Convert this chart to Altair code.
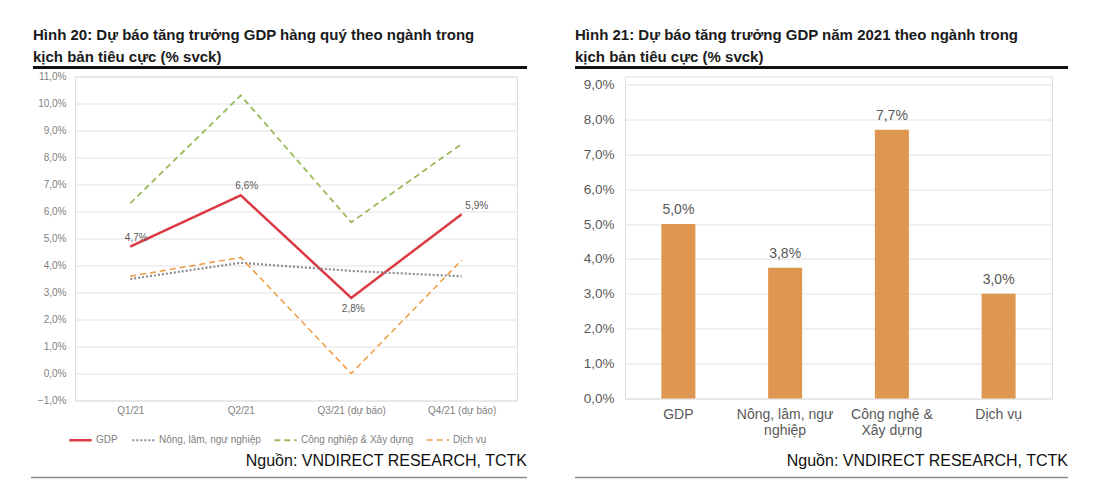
import altair as alt
import pandas as pd

# ---------------- data ----------------
quarters = ["Q1/21", "Q2/21", "Q3/21 (dự báo)", "Q4/21 (dự báo)"]
series_names = ["GDP", "Nông, lâm, ngư nghiệp", "Công nghiệp & Xây dựng", "Dịch vụ"]
gdp = [4.7, 6.6, 2.8, 5.9]
nong_lam_ngu = [3.5, 4.1, 3.8, 3.6]
cong_nghiep_xd = [6.3, 10.3, 5.6, 8.5]
dich_vu = [3.6, 4.3, 0.0, 4.2]

sectors = ["GDP", "Nông, lâm, ngư nghiệp", "Công nghệ & Xây dựng", "Dịch vụ"]
growth_2021 = [5.0, 3.75, 7.7, 3.0]

left_title = ["Hình 20: Dự báo tăng trưởng GDP hàng quý theo ngành trong",
              "kịch bản tiêu cực (% svck)"]
right_title = ["Hình 21: Dự báo tăng trưởng GDP năm 2021 theo ngành trong",
               "kịch bản tiêu cực (% svck)"]
source_text = "Nguồn: VNDIRECT RESEARCH, TCTK"

# ---------------- tables ----------------
rows = []
for name, vals in zip(series_names, [gdp, nong_lam_ngu, cong_nghiep_xd, dich_vu]):
    for q, v in zip(quarters, vals):
        rows.append({"quarter": q, "series": name, "value": v})
df_lines = pd.DataFrame(rows)
df_bars = pd.DataFrame({"sector": sectors, "growth": growth_2021})
one = alt.Data(values=[{"k": 1}])

FONT = "Liberation Sans"
pct = "replace(format(datum.value, '.1f'), '.', ',') + '%'"

# ---------------- left panel ----------------
LW, LH = 442, 324
x_left = alt.X("quarter:N", sort=quarters,
               scale=alt.Scale(type="point", padding=0.5),
               axis=alt.Axis(title=None, labelAngle=0, labelFontSize=10, labelColor="#7f7f7f",
                             labelPadding=5, domain=False, ticks=False, grid=False))
y_left = alt.Y("value:Q", scale=alt.Scale(domain=[-1, 11], nice=False, zero=False),
               axis=alt.Axis(title=None, values=list(range(-1, 12)), labelExpr=pct,
                             labelFontSize=10, labelColor="#7f7f7f", labelPadding=9,
                             domain=False, ticks=False, gridColor="#e2e2e2", gridWidth=1))

lines = alt.Chart(df_lines).mark_line().encode(
    x=x_left, y=y_left,
    color=alt.Color("series:N", sort=series_names,
                    scale=alt.Scale(domain=series_names,
                                    range=["#dc3a43", "#8c8c8c", "#9cbb5e", "#ee9a3c"]),
                    legend=alt.Legend(title=None, orient="none", legendX=-7, legendY=351,
                                      direction="horizontal", symbolType="stroke",
                                      symbolSize=500, labelFontSize=10, labelColor="#7f7f7f",
                                      labelFont=FONT, columnPadding=9, labelOffset=3,
                                      padding=0)),
    strokeDash=alt.StrokeDash("series:N", sort=series_names,
                              scale=alt.Scale(domain=series_names,
                                              range=[[1, 0], [2, 2], [6, 4], [6, 4]])),
    strokeWidth=alt.StrokeWidth("series:N", sort=series_names,
                                scale=alt.Scale(domain=series_names, range=[2.5, 1.5, 2, 2.5])),
)

gdp_only = alt.Chart(df_lines).transform_filter(alt.datum.series == "GDP").transform_calculate(
    lbl="replace(format(datum.value, '.1f'), '.', ',') + '%'")
lab_common = dict(fontSize=10, color="#595959", font=FONT)
label_text = alt.Text("lbl:N")
lab_a = gdp_only.transform_filter(
    alt.FieldOneOfPredicate(field="quarter", oneOf=quarters[:2])
).mark_text(dx=6, dy=-9, **lab_common).encode(x=x_left, y=y_left, text=label_text)
lab_b = gdp_only.transform_filter(alt.datum.quarter == quarters[2]).mark_text(
    dx=2, dy=11, **lab_common).encode(x=x_left, y=y_left, text=label_text)
lab_c = gdp_only.transform_filter(alt.datum.quarter == quarters[3]).mark_text(
    dx=15, dy=-8, **lab_common).encode(x=x_left, y=y_left, text=label_text)


def decorations(title_lines, x_left_edge, x_right_edge, x_line_left):
    title = alt.Chart(one).mark_text(
        align="left", baseline="top", fontSize=15, fontWeight="bold", font=FONT,
        color="#1a1a1a", lineHeight=22
    ).encode(x=alt.value(x_left_edge), y=alt.value(-48.5), text=alt.value(title_lines))
    rule = alt.Chart(one).mark_rule(color="#111111", strokeWidth=2.8).encode(
        x=alt.value(x_left_edge), x2=alt.value(x_right_edge), y=alt.value(-9))
    src = alt.Chart(one).mark_text(
        align="right", baseline="middle", fontSize=16, font=FONT, color="#111111"
    ).encode(x=alt.value(x_right_edge), y=alt.value(384), text=alt.value(source_text))
    bottom = alt.Chart(one).mark_rule(color="#8a8a8a", strokeWidth=1.5).encode(
        x=alt.value(x_line_left), x2=alt.value(x_right_edge), y=alt.value(401))
    return [title, rule, src, bottom]


left = alt.layer(lines, lab_a, lab_b, lab_c, *decorations(left_title, -42, 452, -44)
                 ).properties(width=LW, height=LH)

# ---------------- right panel ----------------
RW, RH = 427, 322
x_right = alt.X("sector:N", sort=sectors,
                scale=alt.Scale(paddingInner=0, paddingOuter=0),
                axis=alt.Axis(title=None, labelAngle=0, labelFontSize=14, labelColor="#595959",
                              labelPadding=9, labelLineHeight=16, labelBaseline="top",
                              domain=False, ticks=False, grid=False, labelFont=FONT,
                              labelExpr="datum.value == 'Nông, lâm, ngư nghiệp' ? ['Nông, lâm, ngư', 'nghiệp'] : datum.value == 'Công nghệ & Xây dựng' ? ['Công nghệ &', 'Xây dựng'] : datum.value"))
y_right = alt.Y("growth:Q", scale=alt.Scale(domain=[0, 9.229], nice=False),
                axis=alt.Axis(title=None, values=list(range(0, 10)), labelExpr=pct,
                              labelFontSize=13.5, labelColor="#595959", labelPadding=11,
                              labelFont=FONT, domain=False, ticks=False,
                              gridColor="#e2e2e2", gridWidth=1))
bars = alt.Chart(df_bars).mark_bar(color="#df9650", size=34).encode(x=x_right, y=y_right)
bar_labels = alt.Chart(df_bars).transform_calculate(
    lbl="replace(format(datum.growth, '.1f'), '.', ',') + '%'"
).mark_text(baseline="bottom", dy=-7, fontSize=14, color="#595959", font=FONT).encode(
    x=x_right, y=y_right, text=alt.Text("lbl:N"))

right = alt.layer(bars, bar_labels, *decorations(right_title, -50, 443, -50)
                  ).properties(width=RW, height=RH)

chart = alt.hconcat(left, right, spacing=108, bounds="flush").properties(
    padding={"left": 21, "top": 19.5, "right": 5, "bottom": 5}
).configure_view(stroke=None).configure(font=FONT, background="white")

chart.save("out.html", embed_options={"renderer": "svg", "actions": False})
